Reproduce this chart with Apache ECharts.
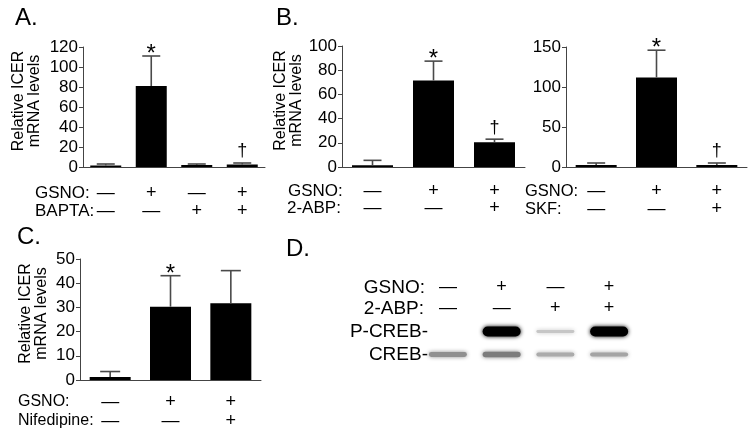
<!DOCTYPE html>
<html>
<head>
<meta charset="utf-8">
<script src="https://cdn.jsdelivr.net/npm/echarts@6/dist/echarts.min.js"></script>
<style>
  html, body { margin: 0; padding: 0; background: #fff; }
  #chart { width: 750px; height: 435px; }
</style>
</head>
<body>
<div id="chart"></div>
<script>
// ---- Panel A: BAPTA ----
const aGsno = ['—', '+', '—', '+']
const aBapta = ['—', '—', '+', '+']
const aValues = [1.5, 81, 2, 2.5]
const aErrors = [1.5, 30, 1, 1.5]
const aMarks = ['', '*', '', '†']
const aMax = 120, aStep = 20

// ---- Panel B: 2-ABP ----
const bGsno = ['—', '+', '+']
const bAbp = ['—', '—', '+']
const bValues = [1.5, 71.5, 20.5]
const bErrors = [4, 16, 2.5]
const bMarks = ['', '*', '†']
const bMax = 100, bStep = 20

// ---- Panel B (right): SKF ----
const sGsno = ['—', '+', '+']
const sSkf = ['—', '—', '+']
const sValues = [2.5, 112, 2.5]
const sErrors = [2.5, 34, 2.5]
const sMarks = ['', '*', '†']
const sMax = 150, sStep = 50

// ---- Panel C: Nifedipine ----
const cGsno = ['—', '+', '+']
const cNif = ['—', '—', '+']
const cValues = [1.2, 30.3, 31.7]
const cErrors = [2.3, 12.8, 13.5]
const cMarks = ['', '*', '']
const cMax = 50, cStep = 10

// ---- Panel D: western blot, band intensity 0..1 ----
const dGsno = ['—', '+', '—', '+']
const dAbp = ['—', '—', '+', '+']
const dRows = ['CREB', 'P-CREB']
const dPCreb = [0, 1, 0.12, 1]
const dCreb = [0.36, 0.45, 0.24, 0.27]

const FONT = '"Liberation Sans", Arial, sans-serif'
const AXIS = '#444'

const chart = echarts.init(document.getElementById('chart'))

function signAxis(idx, row1, row2, margin, lh) {
  return {
    type: 'category',
    gridIndex: idx,
    data: row1.map((s, i) => s + '\n' + row2[i]),
    axisLine: { lineStyle: { color: AXIS, width: 1 } },
    axisTick: { show: false },
    axisLabel: { color: '#000', fontSize: 18, lineHeight: lh, margin, interval: 0 },
  }
}

function valueAxis(idx, max, step, withName, gap) {
  return {
    type: 'value',
    gridIndex: idx,
    min: 0,
    max,
    interval: step,
    name: withName ? 'Relative ICER\nmRNA levels' : '',
    nameLocation: 'middle',
    nameRotate: 90,
    nameGap: gap,
    nameTextStyle: { fontSize: 16, lineHeight: 16, color: '#000', padding: [0, 0, 0, 12] },
    axisLine: { show: true, lineStyle: { color: AXIS, width: 1 } },
    axisTick: { show: true, length: 4, lineStyle: { color: AXIS } },
    axisLabel: { color: '#000', fontSize: 17, margin: 5 },
    splitLine: { show: false },
  }
}

function barSeries(idx, values, width) {
  return {
    type: 'bar',
    xAxisIndex: idx,
    yAxisIndex: idx,
    data: values,
    barWidth: width,
    itemStyle: { color: '#000' },
    silent: true,
  }
}

// error bar (upward only) + significance mark
function errorSeries(idx, values, errors, marks, capW) {
  return {
    type: 'custom',
    xAxisIndex: idx,
    yAxisIndex: idx,
    silent: true,
    z: 5,
    data: values.map((v, i) => [i, v, v + errors[i]]),
    renderItem: (params, api) => {
      const lo = api.coord([api.value(0), api.value(1)])
      const hi = api.coord([api.value(0), api.value(2)])
      const st = { stroke: '#4a4a4a', lineWidth: 1.6 }
      const children = [
        { type: 'line', shape: { x1: lo[0], y1: lo[1], x2: hi[0], y2: hi[1] }, style: st },
        { type: 'line', shape: { x1: hi[0] - capW / 2, y1: hi[1], x2: hi[0] + capW / 2, y2: hi[1] }, style: st },
      ]
      const m = marks[params.dataIndex]
      if (m) {
        const star = m === '*'
        children.push({
          type: 'text',
          x: hi[0],
          y: star ? hi[1] - 1.5 : hi[1] - 11.5,
          style: {
            text: m,
            fontSize: star ? 24 : 18,
            fontFamily: FONT,
            fill: '#000',
            align: 'center',
            verticalAlign: 'middle',
          },
        })
      }
      return { type: 'group', children }
    },
  }
}

function bandSeries() {
  const data = []
  dPCreb.forEach((v, i) => { if (v > 0) data.push([i, 1, v]) })
  dCreb.forEach((v, i) => { if (v > 0) data.push([i, 0, v]) })
  return {
    type: 'custom',
    xAxisIndex: 4,
    yAxisIndex: 4,
    silent: true,
    data,
    renderItem: (params, api) => {
      const p = api.coord([api.value(0), api.value(1)])
      const v = api.value(2)
      const h = 2 + 8 * v
      const g = Math.round(225 - 225 * v)
      const col = `rgb(${g},${g},${g})`
      return {
        type: 'rect',
        shape: { x: p[0] - 19, y: p[1] - h / 2, width: 38, height: h, r: h / 2 },
        style: { fill: col, shadowBlur: 4, shadowColor: col },
      }
    },
  }
}

function txt(x, y, text, align, size) {
  return {
    type: 'text',
    x,
    y,
    style: { text, fontSize: size || 16, fontFamily: FONT, fill: '#000', align: align || 'left', verticalAlign: 'middle' },
  }
}

const option = {
  animation: false,
  textStyle: { fontFamily: FONT },
  grid: [
    { left: 83, top: 47, width: 182, height: 120 },
    { left: 342, top: 46, width: 183, height: 121 },
    { left: 566, top: 47, width: 181, height: 120 },
    { left: 80, top: 259, width: 181, height: 121 },
    { left: 421, top: 320, width: 215, height: 46 },
  ],
  xAxis: [
    signAxis(0, aGsno, aBapta, 17, 18),
    signAxis(1, bGsno, bAbp, 15.5, 17),
    signAxis(2, sGsno, sSkf, 15, 18),
    signAxis(3, cGsno, cNif, 12.5, 19),
    {
      type: 'category',
      gridIndex: 4,
      position: 'top',
      data: dGsno.map((s, i) => s + '\n' + dAbp[i]),
      axisLine: { show: false },
      axisTick: { show: false },
      axisLabel: { color: '#000', fontSize: 18, lineHeight: 21, margin: 1, interval: 0 },
    },
  ],
  yAxis: [
    valueAxis(0, aMax, aStep, true, 40),
    valueAxis(1, bMax, bStep, true, 34),
    valueAxis(2, sMax, sStep, false, 0),
    valueAxis(3, cMax, cStep, true, 30),
    {
      type: 'category',
      gridIndex: 4,
      data: dRows,
      offset: -7,
      axisLine: { show: false },
      axisTick: { show: false },
      axisLabel: { color: '#000', fontSize: 19, margin: 0, interval: 0, formatter: (v) => v + '-' },
    },
  ],
  series: [
    barSeries(0, aValues, 31),
    errorSeries(0, aValues, aErrors, aMarks, 18),
    barSeries(1, bValues, 41),
    errorSeries(1, bValues, bErrors, bMarks, 18),
    barSeries(2, sValues, 41),
    errorSeries(2, sValues, sErrors, sMarks, 18),
    barSeries(3, cValues, 41),
    errorSeries(3, cValues, cErrors, cMarks, 20),
    bandSeries(),
  ],
  graphic: [
    txt(15, 18, 'A.', 'left', 24),
    txt(276, 18, 'B.', 'left', 24),
    txt(17, 237, 'C.', 'left', 24),
    txt(286, 249, 'D.', 'left', 24),
    txt(35, 193, 'GSNO:', 'left', 17),
    txt(35, 211, 'BAPTA:', 'left', 17),
    txt(288, 191, 'GSNO:', 'left', 17),
    txt(287, 208, '2-ABP:', 'left', 17),
    txt(525, 191, 'GSNO:', 'left', 16.5),
    txt(525, 209, 'SKF:', 'left', 16.5),
    txt(18, 402, 'GSNO:'),
    txt(18, 421, 'Nifedipine:'),
    txt(425, 288, 'GSNO:', 'right', 19),
    txt(424, 309, '2-ABP:', 'right', 19),
  ],
}

chart.setOption(option)
</script>
</body>
</html>
